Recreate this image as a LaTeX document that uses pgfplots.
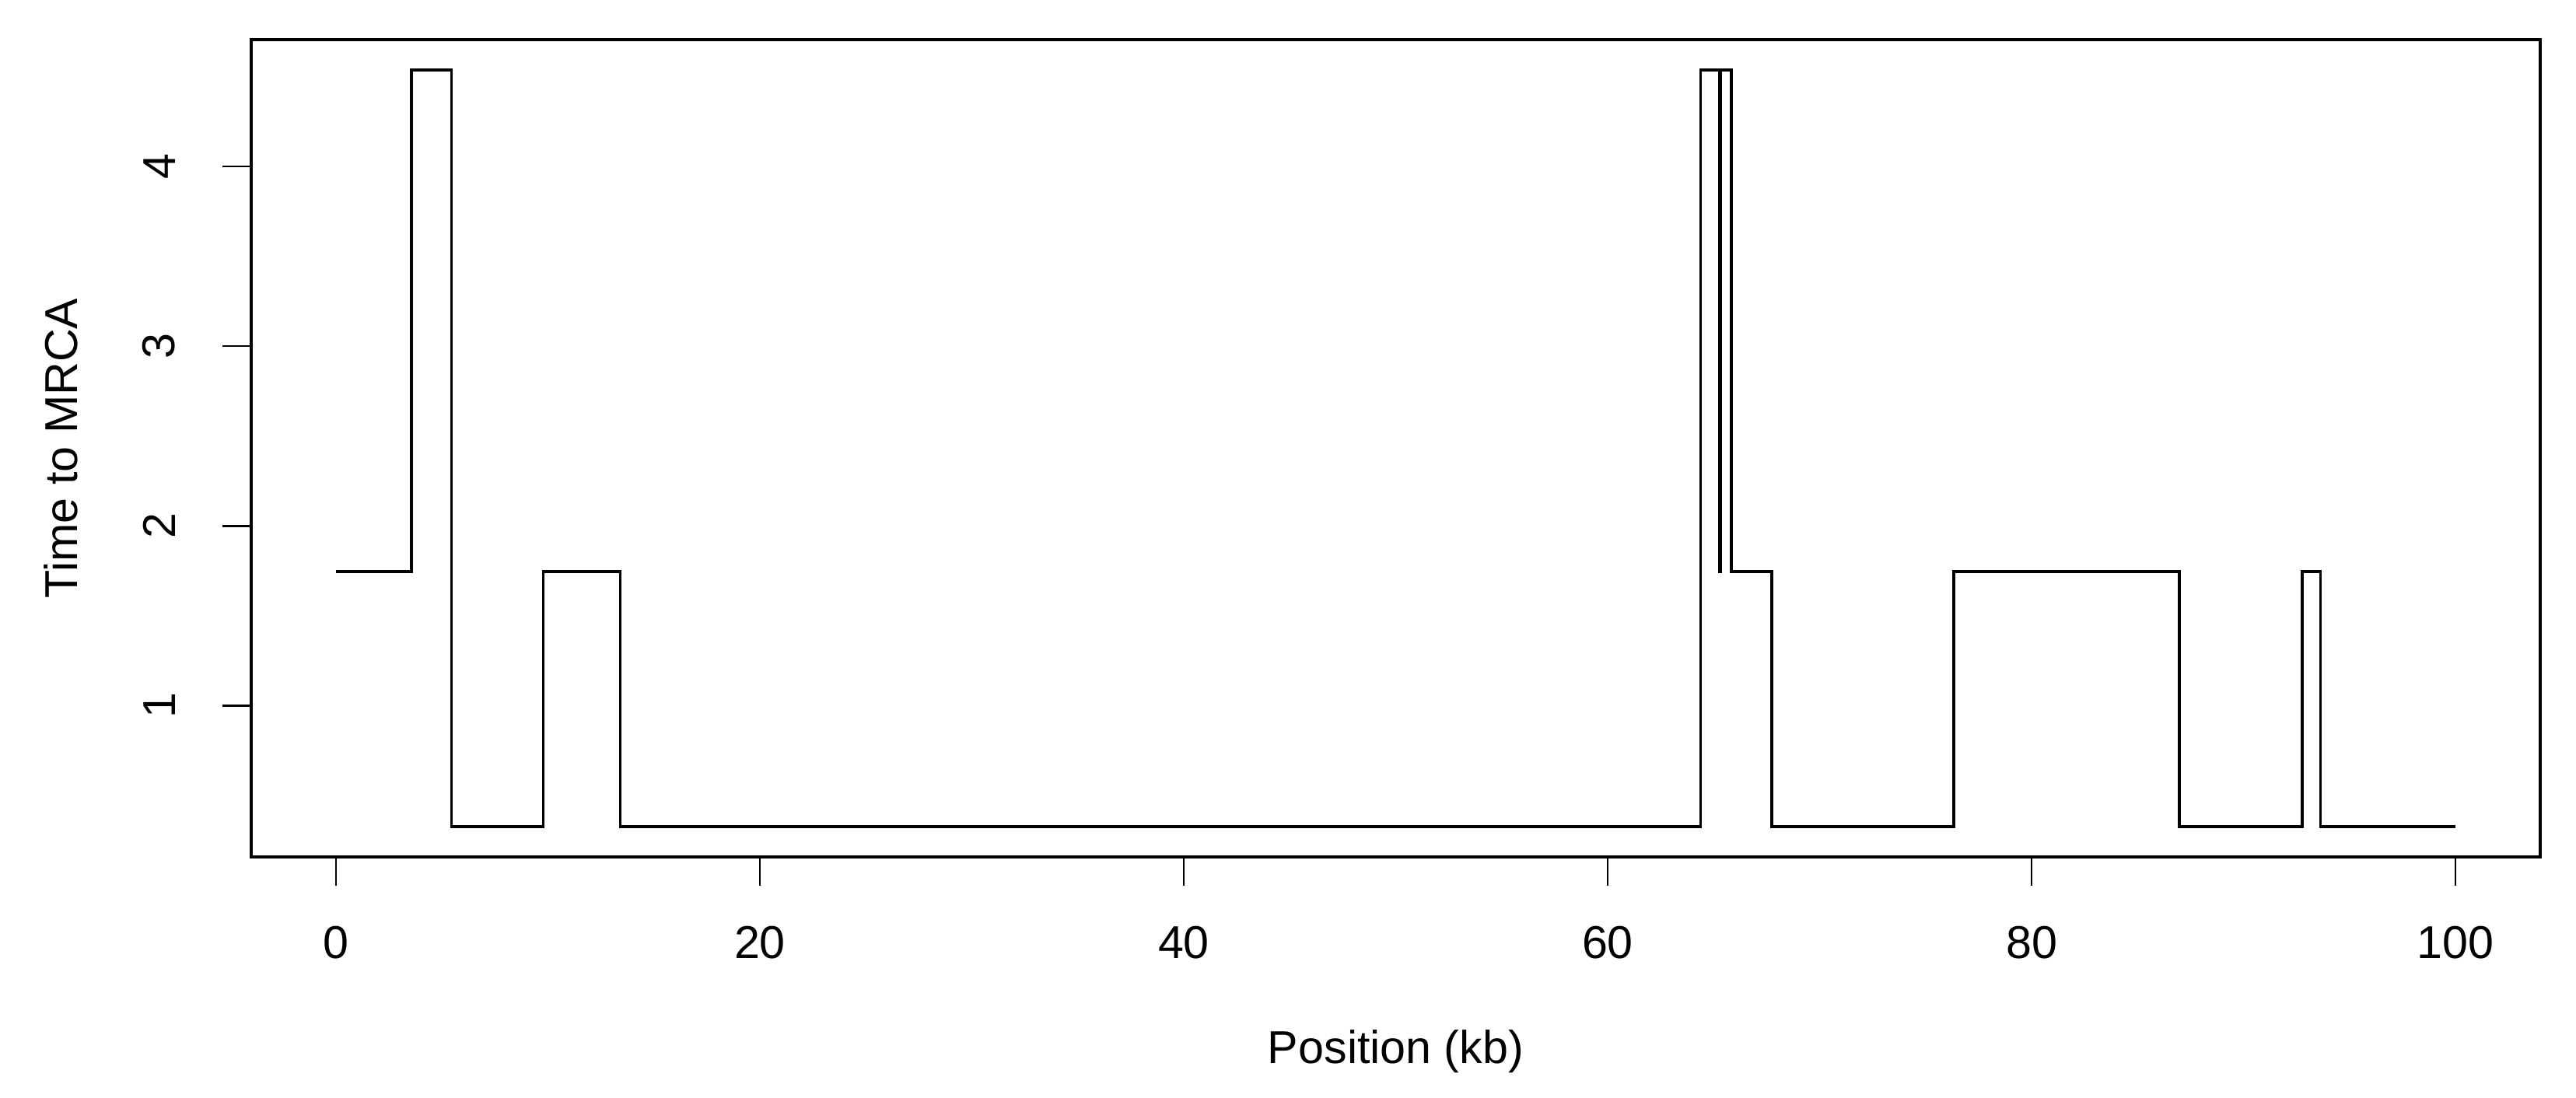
\documentclass[border=0pt]{standalone}
\usepackage{fontspec}
\setmainfont{Liberation Sans}
\usepackage{pgfplots}
\pgfplotsset{compat=1.18}
\begin{document}
\fontsize{14.8}{17.8}\selectfont
\begin{tikzpicture}
\begin{axis}[
  at={(0,0)}, anchor=south west,
  width=735.75pt, height=262.75pt, scale only axis,
  xmin=-4, xmax=104,
  ymin=0.1586, ymax=4.7054,
  xtick={0,20,40,60,80,100},
  ytick={1,2,3,4},
  tick align=outside,
  xtick pos=bottom, ytick pos=left,
  major tick length=9.3pt,
  tick style={line width=0.6pt, black},
  axis line style={line width=1pt, black},
  /pgf/number format/assume math mode=true,
  xticklabel style={anchor=north, inner sep=0pt, yshift=-12.7pt, font=\fontsize{14.8}{17.8}\selectfont},
  yticklabel style={xshift=-15pt, rotate=90, anchor=south, inner sep=0pt, font=\fontsize{14.8}{17.8}\selectfont},
  xlabel={Position (kb)},
  ylabel={Time to MRCA},
  xlabel style={at={(axis description cs:0.5,-0.2379)}, anchor=center, font=\fontsize{14.8}{17.8}\selectfont},
  ylabel style={at={(axis description cs:-0.0832,0.5)}, anchor=center, rotate=0, font=\fontsize{14.8}{17.8}\selectfont},
  clip=false,
]
\addplot[const plot, line width=0.9pt, black] coordinates {
  (0,1.745) (3.57,4.537) (5.45,0.327) (9.78,1.745) (13.41,0.327)
  (64.39,4.537) (65.29,1.745) (65.34,4.537) (65.83,1.745) (67.74,0.327)
  (76.34,1.745) (86.97,0.327) (92.78,1.745) (93.63,0.327) (100,0.327)
};
\end{axis}
\useasboundingbox (-80.75pt,-77.5pt) rectangle (747.25pt,275.5pt);
\end{tikzpicture}
\end{document}
